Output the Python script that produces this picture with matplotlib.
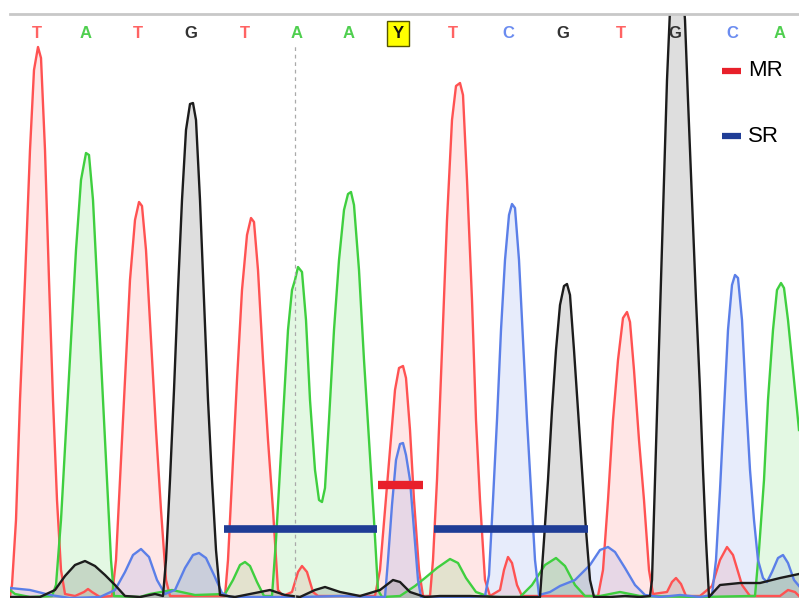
import numpy as np
import matplotlib.pyplot as plt

# base calls along the read
bases = ["T", "A", "T", "G", "T", "A", "A", "Y", "T", "C", "G", "T", "G", "C", "A"]
base_pos = [37, 86, 138, 191, 245, 297, 349, 398, 453, 508, 563, 621, 675, 732, 780]

# trace samples per channel (scan position, signal)
t_x = [10, 12, 16, 20, 25, 30, 34, 38, 41, 45, 49, 53, 57, 61, 65, 75, 84, 88, 92, 100, 112,
       116, 120, 125, 130, 135, 139, 142, 146, 151, 156, 161, 166, 170, 225,
       228, 232, 237, 242, 247, 251, 254, 258, 263, 268, 273, 278, 283,
       292, 298, 302, 307, 313, 318, 375,
       380, 385, 390, 395, 399, 403, 406, 410, 414, 419, 423, 430,
       433, 437, 442, 447, 452, 456, 460, 463, 467, 472, 476, 480, 485, 490,
       500, 504, 508, 512, 517, 522, 598,
       603, 608, 613, 618, 623, 627, 630, 634, 639, 644, 649, 653,
       667, 672, 676, 681, 686, 700,
       712, 720, 727, 733, 742, 750, 780, 788, 795, 799]
t_y = [2, 13, 78, 198, 318, 448, 528, 551, 540, 448, 318, 198, 98, 28, 4, 2, 6, 9, 6, 1, 2,
       38, 118, 218, 318, 378, 396, 392, 348, 258, 168, 88, 18, 2, 2,
       38, 118, 218, 308, 363, 380, 376, 328, 238, 158, 88, 8, 2,
       6, 26, 32, 26, 6, 2, 2,
       28, 88, 148, 208, 230, 232, 220, 168, 98, 28, 2, 2,
       38, 118, 248, 378, 478, 512, 515, 503, 418, 298, 178, 98, 18, 2,
       8, 28, 41, 35, 13, 2, 2,
       28, 98, 178, 238, 280, 286, 276, 228, 158, 98, 28, 4,
       6, 16, 20, 14, 2, 2,
       12, 38, 51, 43, 13, 2, 2, 8, 6, 2]

a_x = [10, 15, 30, 52,
       56, 61, 66, 71, 76, 81, 86, 89, 93, 98, 103, 107, 111, 114,
       140, 150, 172, 195,
       225, 233, 240, 245, 250, 257, 264,
       272, 276, 280, 284, 288, 292, 295, 298, 302, 306, 310, 315, 319, 322, 325, 329,
       334, 339, 344, 348, 351, 354, 359, 364, 369, 374, 378, 382,
       400, 415, 425, 437, 450, 458, 466, 476, 490,
       520, 532, 545, 556, 565, 575, 585,
       600, 620, 640, 700, 750,
       755, 759, 764, 768, 773, 777, 781, 784, 788, 792, 796, 799]
a_y = [8, 4, 1, 2,
       13, 78, 168, 258, 348, 418, 445, 443, 398, 298, 198, 118, 38, 2,
       1, 4, 8, 3,
       4, 18, 33, 36, 32, 16, 2,
       2, 58, 128, 198, 268, 308, 318, 331, 326, 278, 198, 128, 98, 96, 110, 178,
       268, 338, 388, 404, 406, 393, 328, 238, 158, 78, 8, 1,
       2, 12, 20, 30, 39, 35, 20, 6, 1,
       1, 13, 33, 40, 32, 13, 2,
       2, 6, 2, 1, 2,
       2, 48, 118, 198, 268, 308, 315, 310, 278, 238, 198, 168]

c_x = [10, 30, 50, 70, 100, 115, 125, 133, 141, 149, 157, 165, 175, 185, 193, 199, 206, 214, 222,
       230, 300, 340, 375,
       385, 388, 392, 396, 400, 403, 406, 410, 414, 418, 421,
       440, 470, 485,
       489, 493, 497, 501, 505, 509, 512, 515, 519, 523, 527, 531, 535, 539,
       550, 560, 575, 590, 600, 608, 615, 625, 635, 645, 660, 680, 700,
       712, 716, 720, 724, 728, 732, 735, 738, 742, 746, 750, 754, 758, 763, 767,
       772, 778, 783, 788, 794, 799]
c_y = [10, 8, 3, 0, 1, 8, 26, 43, 49, 41, 18, 4, 8, 30, 43, 45, 40, 23, 5,
       1, 1, 2, 1,
       1, 38, 93, 138, 154, 155, 143, 118, 68, 18, 1,
       1, 1, 2,
       23, 98, 178, 268, 338, 383, 394, 390, 338, 258, 178, 108, 38, 3,
       6, 12, 18, 33, 48, 51, 46, 30, 13, 3, 1, 3, 1,
       3, 38, 108, 188, 268, 313, 323, 320, 278, 198, 128, 78, 38, 20, 16,
       26, 40, 43, 35, 18, 12]

g_x = [10, 40, 55, 65, 75, 85, 95, 105, 115, 125, 140, 155,
       163, 166, 170, 174, 178, 182, 186, 190, 193, 196, 200, 204, 208, 212, 216, 220,
       235, 255, 270, 285, 300, 315, 325, 340, 360, 380, 393, 400, 410, 425, 440, 470, 500, 530,
       540, 544, 548, 552, 556, 560, 564, 567, 570, 574, 578, 582, 586, 590, 594,
       610, 625, 640, 650,
       652, 655, 658, 661, 664, 667, 670, 674, 678, 682, 685, 688, 692, 696, 700, 703, 706, 709,
       720, 740, 760, 780, 799]
g_y = [1, 1, 8, 22, 33, 37, 32, 23, 13, 2, 1, 4,
       2, 38, 118, 208, 308, 398, 468, 494, 495, 478, 398, 298, 198, 118, 48, 3,
       1, 5, 8, 3, 1, 8, 11, 6, 2, 8, 18, 16, 6, 1, 2, 2, 1, 1,
       1, 58, 118, 188, 248, 293, 312, 314, 303, 248, 188, 128, 68, 18, 1,
       1, 2, 1, 2,
       18, 118, 218, 318, 418, 518, 588, 623, 628, 618, 578, 498, 398, 298, 208, 128, 58, 1,
       13, 15, 15, 20, 24]

channels = [
    (t_x, t_y, "#ff5252"),
    (a_x, a_y, "#3fcf3f"),
    (c_x, c_y, "#5b7fe8"),
    (g_x, g_y, "#1c1c1c"),
]

# variant markers
mr_span = (378, 423)
mr_level = 113
sr_spans = [(224, 377), (434, 588)]
sr_level = 69

letter_colors = {"T": "#ff6363", "A": "#4fcf4f", "G": "#333333", "C": "#6b8cf0", "Y": "#111111"}

fig = plt.figure(figsize=(7.99, 5.98), dpi=100)
ax = fig.add_axes([10 / 799, 0, 789 / 799, 584 / 598])
ax.set_xlim(10, 799)
ax.set_ylim(0, 584)

for x, y, col in channels:
    ax.fill_between(x, 0, y, color=col, alpha=0.14, linewidth=0)
for x, y, col in channels:
    ax.plot(x, y, color=col, lw=1.7, solid_joinstyle="round")

# dashed cursor line
ax.plot([295, 295], [0, 553], color="#aaaaaa", lw=0.9, ls=(0, (3, 3)))

ax.plot(mr_span, [mr_level, mr_level], color="#e8202a", lw=6, solid_capstyle="butt")
for s in sr_spans:
    ax.plot(s, [sr_level, sr_level], color="#1f3d96", lw=5.5, solid_capstyle="butt")

for b, p in zip(bases, base_pos):
    kw = dict(ha="center", va="center", fontsize=12, fontweight="bold",
              color=letter_colors[b], family="Liberation Sans")
    if b == "Y":
        kw["bbox"] = dict(boxstyle="square,pad=0.3", fc="#ffff00", ec="#555500", lw=1)
    ax.text(p, 565, b, **kw)

# legend
ax.plot([722, 741], [527, 527], color="#e8202a", lw=4.5, solid_capstyle="butt")
ax.text(748, 527, "MR", fontsize=16, va="center", ha="left", family="Liberation Sans")
ax.plot([722, 741], [462, 462], color="#1f3d96", lw=4.5, solid_capstyle="butt")
ax.text(748, 462, "SR", fontsize=16, va="center", ha="left", family="Liberation Sans")

for side in ["left", "right", "bottom"]:
    ax.spines[side].set_visible(False)
ax.spines["top"].set_color("#c8c8c8")
ax.spines["top"].set_linewidth(2)
ax.set_xticks([])
ax.set_yticks([])

fig.savefig("out.png", dpi=100)
